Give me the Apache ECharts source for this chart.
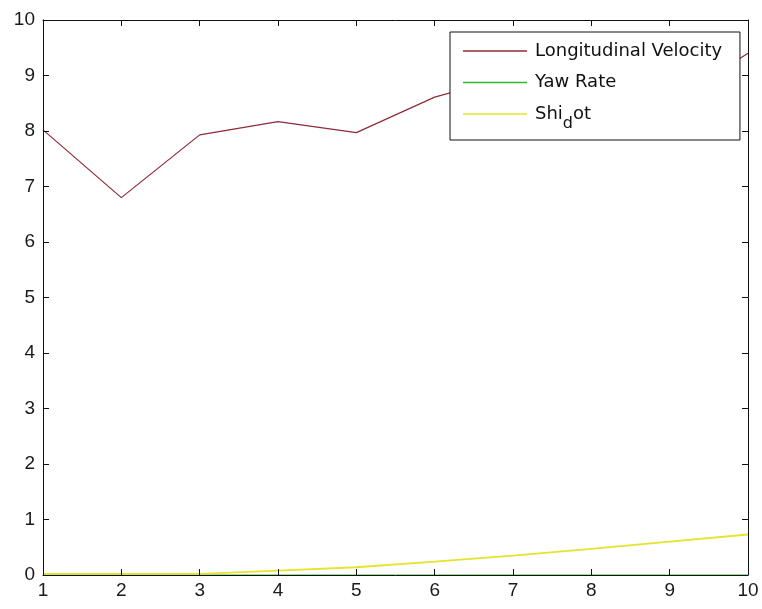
<!DOCTYPE html>
<html>
<head>
<meta charset="utf-8">
<script src="https://cdn.jsdelivr.net/npm/echarts@6/dist/echarts.min.js"></script>
<style>
html,body{margin:0;padding:0;background:#fff;}
#chart{width:762px;height:609px;}
</style>
</head>
<body>
<div id="chart"></div>
<script>
var xValues = [1, 2, 3, 4, 5, 6, 7, 8, 9, 10];
var longitudinalVelocity = [8.02, 6.80, 7.93, 8.17, 7.97, 8.61, 9.0, 8.7, 8.5, 9.4];
var yawRate = [0, 0, 0, 0, 0, 0, 0, 0, 0, 0];
var shiDot = [0.02, 0.02, 0.02, 0.08, 0.14, 0.24, 0.35, 0.47, 0.60, 0.73];
var seriesNames = ['Longitudinal Velocity', 'Yaw Rate', 'Shi_dot'];

function pairs(ys) { return xValues.map(function (x, i) { return [x, ys[i]]; }); }

var chart = echarts.init(document.getElementById('chart'));
var labelFont = {fontFamily: 'Liberation Sans, Arial, sans-serif', fontSize: 19, color: '#1a1a1a'};
var axisLine = {show: true, onZero: false, lineStyle: {color: '#111', width: 1}};
var tickIn = {show: true, inside: true, length: 6, lineStyle: {color: '#111', width: 1}};
var P = 20;
chart.setOption({
  animation: false,
  backgroundColor: '#fff',
  grid: {left: 43, right: 14, top: 20, bottom: 34, containLabel: false},
  xAxis: [
    {type: 'value', min: 1, max: 10, interval: 1, position: 'bottom', z: 5,
     axisLine: axisLine, axisTick: tickIn, splitLine: {show: false},
     axisLabel: Object.assign({margin: 6}, labelFont)},
    {type: 'value', min: 1, max: 10, interval: 1, position: 'top', z: 5,
     axisLine: axisLine, axisTick: tickIn, splitLine: {show: false}, axisLabel: {show: false}}
  ],
  yAxis: [
    {type: 'value', min: 0, max: 10, interval: 1, position: 'left', z: 5,
     axisLine: axisLine, axisTick: tickIn, splitLine: {show: false},
     axisLabel: Object.assign({margin: 8}, labelFont)},
    {type: 'value', min: 0, max: 10, interval: 1, position: 'right', z: 5,
     axisLine: axisLine, axisTick: tickIn, splitLine: {show: false}, axisLabel: {show: false}}
  ],
  legend: {
    orient: 'vertical', left: 450, top: 32,
    data: seriesNames,
    icon: 'rect',
    backgroundColor: '#fff', borderColor: '#111', borderWidth: 1,
    padding: [0, 12, 7, 13],
    itemWidth: 64, itemHeight: 1.4, itemGap: -6.5,
    selectedMode: false,
    formatter: function (name) {
      if (name === 'Shi_dot') return '{n|Shi}{s|d}{n|ot}{z|.}';
      return '{n|' + name + '}{z|.}';
    },
    textStyle: {
      padding: [0, 0, 0, 3],
      rich: {
        n: {fontFamily: 'DejaVu Sans', fontSize: 18, lineHeight: 20, color: '#111'},
        s: {fontFamily: 'DejaVu Sans', fontSize: 16, lineHeight: 20, color: '#111', padding: [P, 0, 0, 0]},
        z: {fontFamily: 'DejaVu Sans', fontSize: 18, lineHeight: 20, color: 'rgba(0,0,0,0)', padding: [P, 0, 0, 0]}
      }
    }
  },
  series: [
    {name: 'Yaw Rate', type: 'line', z: 1, data: pairs(yawRate), symbol: 'none',
     lineStyle: {color: '#2fb82f', width: 1.2}, itemStyle: {color: '#2fb82f'}},
    {name: 'Shi_dot', type: 'line', z: 2, data: pairs(shiDot), symbol: 'none',
     lineStyle: {color: '#e4e42c', width: 1.8}, itemStyle: {color: '#e4e42c'}},
    {name: 'Longitudinal Velocity', type: 'line', z: 3, data: pairs(longitudinalVelocity), symbol: 'none',
     lineStyle: {color: '#8f2a38', width: 1.2}, itemStyle: {color: '#8f2a38'}}
  ]
});
</script>
</body>
</html>
